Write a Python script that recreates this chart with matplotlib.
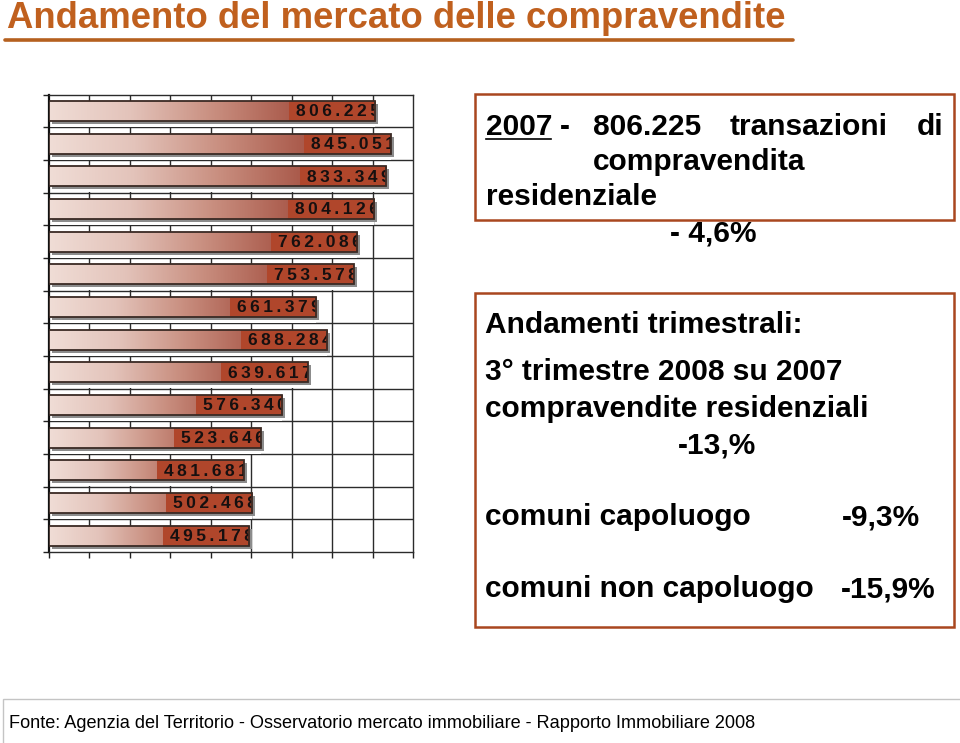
import numpy as np
import matplotlib.pyplot as plt
import matplotlib.transforms as mtransforms
from matplotlib.colors import LinearSegmentedColormap
from matplotlib.lines import Line2D
from matplotlib.patches import Rectangle

# annual residential sales (top bar = 2007)
years = [2007, 2006, 2005, 2004, 2003, 2002, 2001, 2000, 1999, 1998, 1997, 1996, 1995, 1994]
sales = [806225, 845051, 833349, 804126, 762086, 753578, 661379,
         688284, 639617, 576340, 523646, 481681, 502468, 495178]
x_max = 900000
x_step = 100000

W, H = 960, 743
BROWN = "#a9471f"
TITLE_C = "#c0601e"
SANS = ["Liberation Sans", "DejaVu Sans"]


def fx(x):
    return x / W


def fy(y):
    return 1 - y / H


def fmt(v):
    return f"{v:,}".replace(",", ".")


fig = plt.figure(figsize=(W / 100, H / 100), dpi=100)

# --- bar chart ---
ax = fig.add_axes([fx(49), fy(552), (413 - 49) / W, (552 - 94.7) / H])
n = len(sales)
pos = np.arange(n)
bar_h = 0.62
ax.set_xlim(0, x_max)
ax.set_ylim(n - 0.5, -0.5)

grid_c = "#2b2b2b"
for xv in range(x_step, x_max, x_step):
    ax.axvline(xv, color=grid_c, lw=1.0, zorder=1)
for b in np.arange(0.5, n - 0.5, 1):
    ax.axhline(b, color=grid_c, lw=1.0, zorder=1)

# hide back-wall grid just below each bar (3D floor look)
ax.barh(pos + bar_h / 2 + 0.09, sales, height=0.18, color="white", zorder=2)

shadow = ax.transData + mtransforms.ScaledTranslation(3 / 100, -3 / 100, fig.dpi_scale_trans)
ax.barh(pos, sales, height=bar_h, color="#8c8c8c", zorder=3, transform=shadow)

bars = ax.barh(pos, sales, height=bar_h, color="none", edgecolor="#3a2a24", lw=1.3, zorder=6)

cmap = LinearSegmentedColormap.from_list(
    "grad", ["#f0ddd6", "#e3c3ba", "#c98f80", "#a9594a", "#a24a38"])
grad = np.linspace(0, 1, 256).reshape(1, -1)
for p, v, b in zip(pos, sales, bars):
    im = ax.imshow(grad, cmap=cmap, aspect="auto", zorder=4,
                   extent=(0, v, p + bar_h / 2, p - bar_h / 2))
    im.set_clip_path(b)
    t = ax.annotate("\u2009".join(fmt(v)), xy=(v, p), xytext=(3.2, -0.5),
                    textcoords="offset points", ha="right", va="center",
                    fontsize=12.5, fontweight="bold", color="#161010",
                    family=SANS, zorder=5,
                    bbox=dict(boxstyle="square,pad=0.4", fc="#b0462b", ec="none"))
    t.set_clip_path(b)

ax.set_xticks(np.arange(0, x_max + 1, x_step))
ax.set_yticks(np.arange(-0.5, n, 1))
ax.tick_params(axis="both", direction="out", length=4, width=1.0, color="#222",
               labelleft=False, labelbottom=False)
for s in ["top", "right", "bottom"]:
    ax.spines[s].set_color(grid_c)
    ax.spines[s].set_linewidth(1.0)
ax.spines["left"].set_color("#111")
ax.spines["left"].set_linewidth(1.6)
ax.set_xlim(0, x_max)
ax.set_ylim(n - 0.5, -0.5)

# --- title ---
fig.text(fx(7), fy(28), "Andamento del mercato delle compravendite", fontsize=26.3,
         fontweight="bold", color=TITLE_C, family=SANS, va="baseline")
fig.add_artist(Line2D([fx(5), fx(793)], [fy(40), fy(40)], lw=2.6, color="#b5601f",
                      solid_capstyle="round"))

# --- text boxes ---
fig.add_artist(Rectangle((fx(475), fy(220)), (954 - 475) / W, (220 - 94) / H,
                         transform=fig.transFigure, fill=False, ec=BROWN, lw=1.8))
fig.add_artist(Rectangle((fx(475), fy(627)), (954 - 475) / W, (627 - 293) / H,
                         transform=fig.transFigure, fill=False, ec=BROWN, lw=1.8))

tk = dict(fontsize=21.5, fontweight="bold", color="black", family=SANS, va="baseline")
fig.text(fx(486), fy(135), "2007", **tk)
fig.add_artist(Line2D([fx(486), fx(551)], [fy(139), fy(139)], lw=1.2, color="black"))
fig.text(fx(560), fy(135), "-", **tk)
fig.text(fx(593), fy(135), "806.225", **tk)
fig.text(fx(730), fy(135), "transazioni", **tk)
fig.text(fx(943), fy(135), "di", ha="right", **tk)
fig.text(fx(593), fy(170), "compravendita", **tk)
fig.text(fx(486), fy(205), "residenziale", **tk)
fig.text(fx(713), fy(242), "- 4,6%", ha="center", **tk)

fig.text(fx(485), fy(333), "Andamenti trimestrali:", **tk)
fig.text(fx(485), fy(380), "3° trimestre 2008 su 2007", **tk)
fig.text(fx(485), fy(417), "compravendite residenziali", **tk)
fig.text(fx(717), fy(453), "-13,%", ha="center", **tk)
fig.text(fx(485), fy(525), "comuni capoluogo", **tk)
fig.text(fx(920), fy(525), "-9,3%", ha="right", **tk)
fig.text(fx(485), fy(597), "comuni non capoluogo", **tk)
fig.text(fx(935), fy(597), "-15,9%", ha="right", **tk)

# --- source footer ---
fig.add_artist(Rectangle((fx(3), fy(745)), (962 - 3) / W, (745 - 699) / H,
                         transform=fig.transFigure, fill=False, ec="#c4c4c4", lw=1.0))
fig.text(fx(9), fy(728), "Fonte: Agenzia del Territorio - Osservatorio mercato immobiliare"
         " - Rapporto Immobiliare 2008", fontsize=13.1, color="black", family=SANS,
         va="baseline")

fig.savefig("out.png", dpi=100)
